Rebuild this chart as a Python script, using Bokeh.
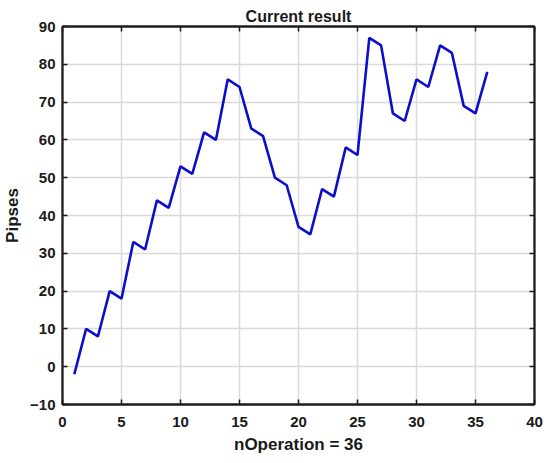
from bokeh.plotting import figure
from bokeh.models import LinearAxis, FixedTicker, Range1d, Title
from bokeh.embed import file_html
from bokeh.resources import INLINE

n_operation = list(range(1, 37))
pipses = [-2, 10, 8, 20, 18, 33, 31, 44, 42, 53, 51, 62, 60, 76, 74, 63, 61, 50, 48, 37,
          35, 47, 45, 58, 56, 87, 85, 67, 65, 76, 74, 85, 83, 69, 67, 78]
x_ticks = [0, 5, 10, 15, 20, 25, 30, 35, 40]
y_ticks = [-10, 0, 10, 20, 30, 40, 50, 60, 70, 80, 90]

FONT = "Liberation Sans"

p = figure(width=548, height=460, output_backend="svg", toolbar_location=None,
           x_range=Range1d(0, 40), y_range=Range1d(-10, 90),
           x_axis_location=None, y_axis_location=None, title=None,
           min_border_left=61, min_border_right=14, min_border_top=26, min_border_bottom=56)
p.background_fill_color = "white"
p.border_fill_color = "white"
p.outline_line_color = "#1a1a1a"
p.outline_line_width = 1.8

def make_axis(ticks, labels=True, label_text=None, standoff=6, label_standoff=10):
    ax = LinearAxis(ticker=FixedTicker(ticks=ticks))
    ax.major_tick_in = 5
    ax.major_tick_out = 0
    ax.minor_tick_line_color = None
    ax.axis_line_color = "#1a1a1a"
    ax.axis_line_width = 1.8
    ax.major_tick_line_color = "#1a1a1a"
    ax.major_tick_line_width = 1.5
    ax.major_label_text_font = FONT
    ax.major_label_text_font_style = "bold"
    ax.major_label_text_font_size = "15px"
    ax.major_label_text_color = "#1a1a1a"
    ax.major_label_standoff = standoff
    if not labels:
        ax.major_label_text_font_size = "1px"
        ax.major_label_text_alpha = 0
        ax.major_label_standoff = 0
    if label_text:
        ax.axis_label = label_text
        ax.axis_label_text_font = FONT
        ax.axis_label_text_font_style = "bold"
        ax.axis_label_text_font_size = "17px"
        ax.axis_label_text_color = "#1a1a1a"
        ax.axis_label_standoff = label_standoff
    return ax

p.add_layout(make_axis(x_ticks, True, "nOperation = 36", standoff=12, label_standoff=5), "below")
p.add_layout(make_axis(y_ticks, True, "Pipses", standoff=7, label_standoff=5), "left")
p.add_layout(make_axis(y_ticks, False), "right")
p.add_layout(make_axis(x_ticks, False), "above")

t = Title(text="Current result", align="center", text_font=FONT, text_font_size="16px",
          text_font_style="bold", text_color="#1a1a1a", standoff=4)
p.add_layout(t, "above")

p.xgrid.ticker = FixedTicker(ticks=x_ticks)
p.ygrid.ticker = FixedTicker(ticks=y_ticks)
for g in (p.xgrid, p.ygrid):
    g.grid_line_color = "#d9d9d9"
    g.grid_line_width = 1.5

p.line(n_operation, pipses, line_color="#0d0dcc", line_width=2.6)

open("out.html", "w").write(file_html(p, INLINE))
